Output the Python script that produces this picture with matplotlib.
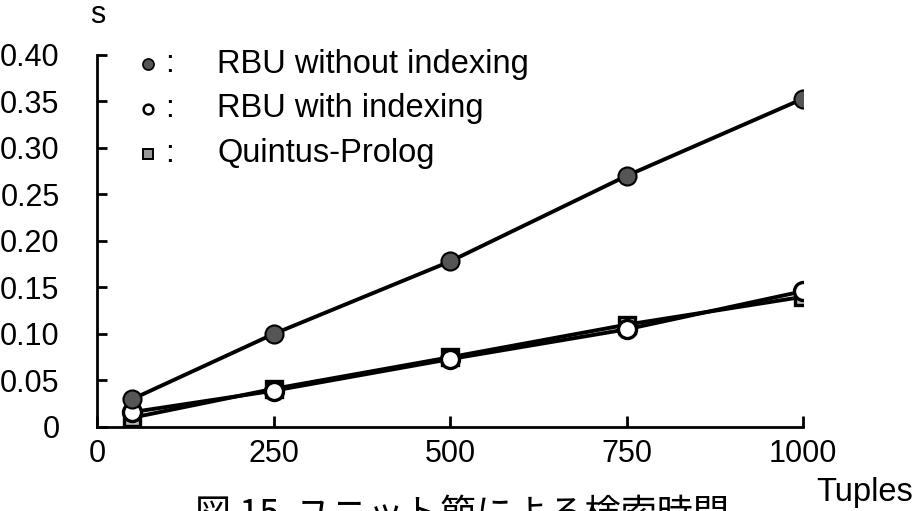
import matplotlib
matplotlib.use("Agg")
import matplotlib.pyplot as plt
from matplotlib.lines import Line2D

plt.rcParams['font.family'] = ['Liberation Sans', 'Noto Sans CJK JP', 'DejaVu Sans']

tuples = [50, 250, 500, 750, 1000]
rbu_no_index = [0.030, 0.100, 0.178, 0.270, 0.353]
rbu_index = [0.016, 0.039, 0.073, 0.105, 0.146]
quintus = [0.010, 0.041, 0.075, 0.110, 0.140]

x_ticks = [0, 250, 500, 750, 1000]
y_ticks = [0, 0.05, 0.10, 0.15, 0.20, 0.25, 0.30, 0.35, 0.40]
y_labels = ["0", "0.05", "0.10", "0.15", "0.20", "0.25", "0.30", "0.35", "0.40"]
legend_labels = ["RBU without indexing", "RBU with indexing", "Quintus-Prolog"]
caption = "図 15  ユニット節による検索時間"

fig = plt.figure(figsize=(9.17, 5.11), dpi=100)
ax = fig.add_axes([0.1058, 0.1644, 0.7699, 0.7280])

ax.plot(tuples, quintus, color='black', lw=2.8, marker='s', ms=12,
        mfc='#bbbbbb', mec='black', mew=2.4, zorder=3)
ax.plot(tuples, rbu_index, color='black', lw=2.8, marker='o', ms=13,
        mfc='white', mec='black', mew=2.4, zorder=4)
ax.plot(tuples, rbu_no_index, color='black', lw=2.8, marker='o', ms=13,
        mfc='#555555', mec='black', mew=1.5, zorder=4)

ax.set_xlim(0, 1000)
ax.set_ylim(0, 0.40)
ax.set_xticks(x_ticks)
ax.set_yticks(y_ticks)
ax.set_yticklabels(y_labels)
for s in ['top', 'right']:
    ax.spines[s].set_visible(False)
for s in ['left', 'bottom']:
    ax.spines[s].set_linewidth(2.0)
ax.tick_params(axis='y', direction='in', length=7, width=2.0, pad=27, labelsize=22)
ax.tick_params(axis='x', direction='in', length=8, width=2.0, pad=9, labelsize=22)

# legend-like text block
rows_y = [0.390, 0.342, 0.294]
styles = [dict(marker='o', ms=8, mfc='#555555', mec='black', mew=1.2),
          dict(marker='o', ms=7, mfc='white', mec='black', mew=1.8),
          dict(marker='s', ms=7, mfc='#999999', mec='black', mew=1.4)]
for yy, lab, st in zip(rows_y, legend_labels, styles):
    ax.add_line(Line2D([72], [yy], linestyle='none', clip_on=False, **st))
    ax.text(102, yy, ":", fontsize=23, va='center', ha='center')
    ax.text(170, yy, lab, fontsize=23.5, va='center', ha='left')

fig.text(98 / 917, 1 - 15 / 511, "s", fontsize=22, ha='center', va='center')
fig.text(865 / 917, 1 - 492 / 511, "Tuples", fontsize=23.5, ha='center', va='center')
fig.text(195 / 917, 1 - 497 / 511, caption, fontsize=26, ha='left', va='top',
         family=['Noto Sans CJK JP', 'DejaVu Sans'])

fig.savefig("out.png", dpi=100)
